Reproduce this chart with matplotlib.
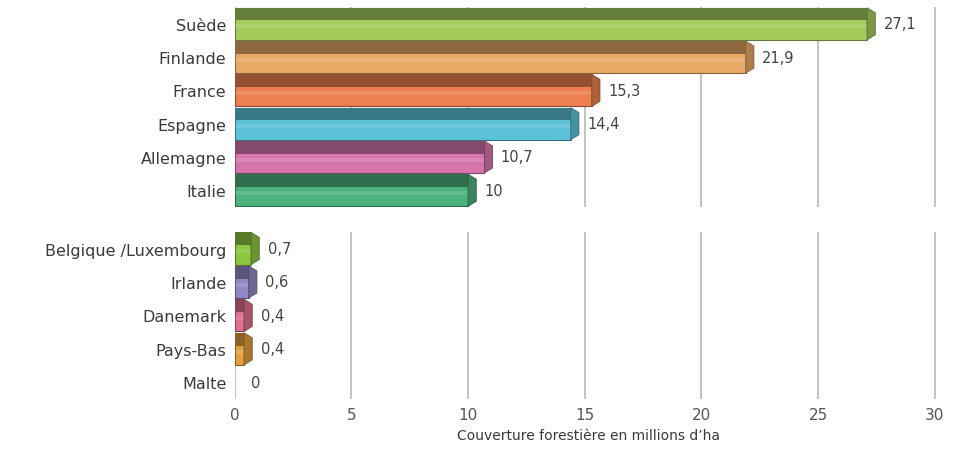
import matplotlib.pyplot as plt
import matplotlib.colors as mcolors
import numpy as np

# données
top_countries = ["Suède", "Finlande", "France", "Espagne", "Allemagne", "Italie"]
top_values = [27.1, 21.9, 15.3, 14.4, 10.7, 10]
top_colors = ["#a3cc5c", "#e8a866", "#ec8050", "#5cc2d8", "#d676ad", "#4db27c"]

bottom_countries = ["Belgique /Luxembourg", "Irlande", "Danemark", "Pays-Bas", "Malte"]
bottom_values = [0.7, 0.6, 0.4, 0.4, 0]
bottom_colors = ["#8cc53f", "#9386c4", "#e0708e", "#e0a040", "#cccccc"]

x_ticks = [0, 5, 10, 15, 20, 25, 30]
x_label = "Couverture forestière en millions d’ha"
value_labels_top = ["27,1", "21,9", "15,3", "14,4", "10,7", "10"]
value_labels_bottom = ["0,7", "0,6", "0,4", "0,4", "0"]

plt.rcParams["font.family"] = ["DejaVu Sans"]
text_color = "#3a3a3a"
grid_color = "#b8b8b8"


def darker(color, f):
    r, g, b = mcolors.to_rgb(color)
    return (r * f, g * f, b * f)


def draw_panel(ax, names, values, colors, labels):
    ypos = np.arange(len(names))
    h = 0.96
    depth = 0.35
    for y, v, c, lab in zip(ypos, values, colors, labels):
        if v > 0:
            # face principale
            ax.barh(y, v, height=h, color=c, edgecolor=darker(c, 0.6),
                    linewidth=0.8, zorder=3)
            # bande sombre du dessus (effet 3D)
            ax.barh(y - h / 2 + 0.19, v, height=0.38, color=darker(c, 0.62),
                    linewidth=0, zorder=4)
            # reflet clair
            ax.barh(y + 0.08, v, height=0.12, color=mcolors.to_rgba("white", 0.12),
                    linewidth=0, zorder=4)
            # biseau à droite
            ax.fill([v, v + depth, v + depth, v],
                    [y - h / 2, y - h / 2 + 0.15, y + h / 2 - 0.15, y + h / 2],
                    color=darker(c, 0.75), edgecolor=darker(c, 0.55),
                    linewidth=0.6, zorder=5)
        ax.annotate(lab, (v + depth, y), xytext=(6, 0), textcoords="offset points",
                    va="center", ha="left", fontsize=10.5, color="#444444")
    ax.set_yticks(ypos)
    ax.set_yticklabels(names, fontsize=11.5, color=text_color)
    ax.set_ylim(len(names) - 0.5, -0.5)
    ax.set_xlim(0, 30.3)
    ax.set_xticks(x_ticks)
    for x in x_ticks:
        ax.axvline(x, color=grid_color, linewidth=1.2, zorder=1)
    for s in ax.spines.values():
        s.set_visible(False)
    ax.tick_params(axis="both", length=0, pad=6)


fig = plt.figure(figsize=(9.62, 4.52), dpi=100)
ax1 = fig.add_axes([0.244, 0.54, 0.7277 * 30.3 / 30, 0.442])
ax2 = fig.add_axes([0.244, 0.115, 0.7277 * 30.3 / 30, 0.37])

draw_panel(ax1, top_countries, top_values, top_colors, value_labels_top)
draw_panel(ax2, bottom_countries, bottom_values, bottom_colors, value_labels_bottom)

ax1.set_xticklabels([])
ax2.set_xticklabels([str(t) for t in x_ticks], fontsize=11, color="#555555")
ax2.set_xlabel(x_label, fontsize=10, color=text_color, labelpad=4)

fig.savefig("out.png", dpi=100, facecolor="white")
